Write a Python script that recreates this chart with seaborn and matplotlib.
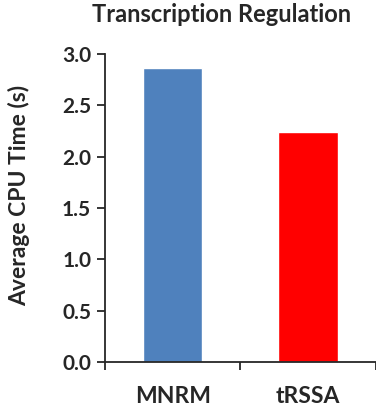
import matplotlib
matplotlib.use("Agg")
import matplotlib.pyplot as plt
import seaborn as sns
import pandas as pd

methods = ["MNRM", "tRSSA"]
cpu_time = [2.86, 2.24]
bar_colors = ["#4F81BD", "#FF0000"]
y_ticks = [0.0, 0.5, 1.0, 1.5, 2.0, 2.5, 3.0]

sns.set_style("white")
plt.rcParams["font.family"] = ["Lato", "DejaVu Sans"]
text_color = "#262626"

df = pd.DataFrame({"method": methods, "time": cpu_time})

fig = plt.figure(figsize=(3.76, 4.13), dpi=100)
ax = fig.add_axes([105 / 376, 1 - 362 / 413, 1 - 105 / 376 - 0.001, (362 - 54) / 413])

sns.barplot(data=df, x="method", y="time", hue="method", palette=bar_colors,
            width=0.44, saturation=1, legend=False, ax=ax)

ax.set_xlim(-0.5, 1.5)
ax.set_ylim(0, 3.0)
ax.set_yticks(y_ticks)
ax.set_yticklabels([f"{v:.1f}" for v in y_ticks], fontsize=15,
                   fontweight="bold", color=text_color)

# category labels sit between boundary tick marks
ax.set_xticks([0, 1])
ax.set_xticklabels(methods, fontsize=16.5, fontweight="bold", color=text_color)
ax.tick_params(axis="x", length=0, pad=17)
ax.set_xticks([-0.5, 0.5, 1.5], minor=True)
ax.tick_params(axis="x", which="minor", direction="out", length=6,
               width=1.3, color=text_color, bottom=True)
ax.tick_params(axis="y", direction="out", length=6, width=1.3,
               color=text_color, left=True, pad=4)

for side in ["top", "right"]:
    ax.spines[side].set_visible(False)
for side in ["left", "bottom"]:
    ax.spines[side].set_color(text_color)
    ax.spines[side].set_linewidth(1.3)

ax.set_xlabel("")
ax.set_ylabel("")
fig.text(19 / 376, 1 - 195 / 413, "Average CPU Time (s)", rotation=90,
         ha="center", va="center", fontsize=16.5, fontweight="bold",
         color=text_color)

fig.text(222 / 376, 1 - 14 / 413, "Transcription Regulation", ha="center",
         va="center", fontsize=17, fontweight="bold", color=text_color)

fig.savefig("out.png", dpi=100)
